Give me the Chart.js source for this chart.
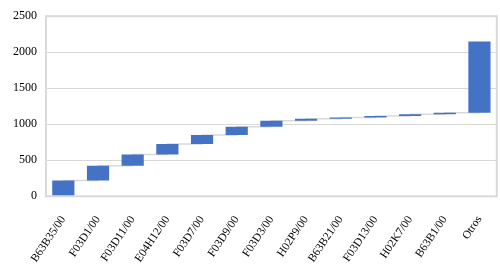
<!DOCTYPE html>
<html lang="es">
<head>
<meta charset="utf-8">
<title>Cascada</title>
<script src="https://cdn.jsdelivr.net/npm/chart.js@4/dist/chart.umd.min.js"></script>
<style>
  html, body { margin: 0; padding: 0; background: #fff; }
  #caja { width: 500px; height: 274px; position: relative; }
</style>
</head>
<body>
<div id="caja"><canvas id="grafico"></canvas></div>
<script>
const categorias = ['B63B35/00', 'F03D1/00', 'F03D11/00', 'E04H12/00', 'F03D7/00', 'F03D9/00',
  'F03D3/00', 'H02P9/00', 'B63B21/00', 'F03D13/00', 'H02K7/00', 'B63B1/00', 'Otros'];
const inicio = [0, 220, 425, 580, 725, 850, 965, 1050, 1075, 1095, 1115, 1140, 1160];
const fin = [220, 425, 580, 725, 850, 965, 1050, 1075, 1095, 1115, 1140, 1160, 2150];
const marcasY = [0, 500, 1000, 1500, 2000, 2500];

const fuente = { family: '"Liberation Serif", "Times New Roman", serif', size: 12 };
const fuenteX = { family: fuente.family, size: 11.5 };

// marco gris alrededor del área de trazado
const marco = {
  id: 'marco',
  afterDraw(chart) {
    const a = chart.chartArea, c = chart.ctx;
    c.save();
    c.strokeStyle = '#d9d9d9';
    c.lineWidth = 2;
    c.strokeRect(a.left, a.top, a.right - a.left, a.bottom - a.top);
    c.restore();
  }
};

new Chart(document.getElementById('grafico'), {
  data: {
    labels: categorias,
    datasets: [{
      type: 'bar',
      data: categorias.map((c, i) => [inicio[i], fin[i]]),
      backgroundColor: '#4472c4',
      borderWidth: 0,
      barPercentage: 0.64,
      categoryPercentage: 1,
      order: 1
    }, {
      type: 'line',
      data: fin,
      stepped: true,
      borderColor: '#d9d9d9',
      borderWidth: 1.5,
      pointRadius: 0,
      fill: false,
      order: 2
    }]
  },
  plugins: [marco],
  options: {
    responsive: true,
    maintainAspectRatio: false,
    animation: false,
    layout: { padding: { left: 4, right: 3, top: 0, bottom: 0 } },
    plugins: { legend: { display: false }, tooltip: { enabled: false } },
    scales: {
      x: {
        grid: { display: false },
        border: { display: false },
        ticks: {
          color: '#000', font: fuenteX, autoSkip: false,
          minRotation: 56, maxRotation: 56, padding: 9
        }
      },
      y: {
        min: 0, max: 2500,
        afterBuildTicks(ax) { ax.ticks = marcasY.map(v => ({ value: v })); },
        grid: { color: '#d9d9d9', lineWidth: 1, drawTicks: false },
        border: { display: false },
        ticks: { color: '#000', font: fuente, padding: 9, callback: v => String(v) }
      }
    }
  }
});
</script>
</body>
</html>
